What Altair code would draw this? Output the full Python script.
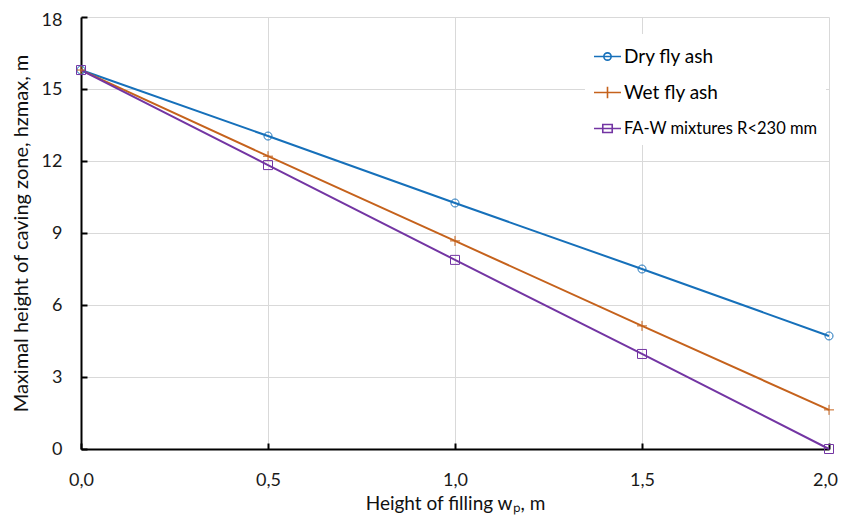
import altair as alt
import pandas as pd

# ---- data ----
x_vals = [0.0, 0.5, 1.0, 1.5, 2.0]
dry = [15.79, 13.04, 10.25, 7.50, 4.71]
wet = [15.79, 12.20, 8.67, 5.13, 1.63]
faw = [15.79, 11.83, 7.88, 3.96, 0.0]
series_names = ["Dry fly ash", "Wet fly ash", "FA-W mixtures R<230 mm"]
colors = ["#1670BA", "#C5621C", "#7335A3"]
x_ticks = [0.0, 0.5, 1.0, 1.5, 2.0]
y_ticks = [0, 3, 6, 9, 12, 15, 18]

rows = []
for name, vals in zip(series_names, [dry, wet, faw]):
    for xv, yv in zip(x_vals, vals):
        rows.append({"x": xv, "y": yv, "series": name})
df = pd.DataFrame(rows)

# legend-only rows (placed below the y domain and clipped away)
legend_df = pd.DataFrame({"x": [1.0] * 3, "y": [-50.0] * 3, "series": series_names})

FONT = "Lato"

color_scale = alt.Scale(domain=series_names, range=colors)
xs = alt.Scale(domain=[0, 2], nice=False, zero=False)
ys = alt.Scale(domain=[0, 18], nice=False)

x_axis = alt.Axis(
    values=x_ticks,
    title="Height of filling wₚ, m",
    labelExpr="replace(format(datum.value, '.1f'), '.', ',')",
    labelFlush=False,
    labelOffset=alt.ExprRef("datum.value == 2 ? -4 : 0"),
    grid=True,
    tickSize=alt.ExprRef("-6"),
    labelPadding=28,
    titleY=45,
    titleBaseline="top",
    titleFontSize=19,
)
y_axis = alt.Axis(
    values=y_ticks,
    title="Maximal  height of caving zone, hzmax, m",
    grid=True,
    tickSize=alt.ExprRef("-6"),
    labelPadding=25,
    labelOffset=alt.ExprRef("datum.value == 18 ? 3 : 0"),
    titleX=-60,
    titleBaseline="middle",
    titleFontSize=20,
)

base = alt.Chart(df)

lines = base.mark_line(strokeWidth=2).encode(
    x=alt.X("x:Q", scale=xs, axis=x_axis),
    y=alt.Y("y:Q", scale=ys, axis=y_axis),
    color=alt.Color("series:N", scale=color_scale, legend=None),
)

marker_paths = [
    "M0.8,0A0.8,0.8 0 1,1 -0.8,0A0.8,0.8 0 1,1 0.8,0",
    "M-1,0H1M0,-1V1",
    "M-0.9,-0.9H0.9V0.9H-0.9Z",
]

points = base.mark_point(filled=False, strokeWidth=1, opacity=1, size=100).encode(
    x=alt.X("x:Q", scale=xs),
    y=alt.Y("y:Q", scale=ys),
    color=alt.Color("series:N", scale=color_scale, legend=None),
    shape=alt.Shape(
        "series:N",
        scale=alt.Scale(domain=series_names, range=marker_paths),
        legend=None,
    ),
)

legend_paths = [
    "M-1,0H1M0.27,0A0.27,0.27 0 1,1 -0.27,0A0.27,0.27 0 1,1 0.27,0",
    "M-1,0H1M0,-0.42V0.42",
    "M-1,0H1M-0.35,-0.3H0.35V0.3H-0.35Z",
]

stroke_expr = (
    f"datum.label == '{series_names[0]}' ? '{colors[0]}' : "
    f"datum.label == '{series_names[1]}' ? '{colors[1]}' : '{colors[2]}'"
)
font_expr = f"datum.label == '{series_names[2]}' ? 16.5 : 19"

legend_layer = alt.Chart(legend_df).mark_point(filled=False, clip=True, strokeWidth=1.5).encode(
    x=alt.X("x:Q", scale=xs),
    y=alt.Y("y:Q", scale=ys),
    shape=alt.Shape(
        "series:N",
        scale=alt.Scale(domain=series_names, range=legend_paths),
        legend=alt.Legend(
            title=None,
            orient="none",
            legendX=504,
            legendY=17,
            fillColor="white",
            padding=8,
            symbolSize=729,
            symbolStrokeWidth=1.6,
            symbolFillColor="transparent",
            symbolStrokeColor=alt.ExprRef(stroke_expr),
            symbolOpacity=1,
            labelFont=FONT,
            labelFontSize=alt.ExprRef(font_expr),
            labelColor="#000000",
            labelOffset=2,
            rowPadding=11,
            labelLimit=400,
        ),
    ),
)

chart = (
    alt.layer(lines, points, legend_layer)
    .resolve_scale(shape="independent")
    .properties(
        width=748,
        height=432,
        background="white",
        autosize=alt.AutoSizeParams(type="none"),
        padding={"left": 73, "top": 9, "right": 10, "bottom": 70},
    )
    .configure_view(stroke=None)
    .configure_axis(
        labelFont=FONT,
        titleFont=FONT,
        labelFontSize=18,
        titleFontWeight="normal",
        labelColor="#1a1a1a",
        titleColor="#111111",
        gridColor="#D9D9D9",
        gridWidth=1,
        domainColor="#000000",
        domainWidth=2,
        tickColor="#000000",
        tickWidth=2,
    )
)

chart.save("out.html", embed_options={"renderer": "svg", "actions": False})
